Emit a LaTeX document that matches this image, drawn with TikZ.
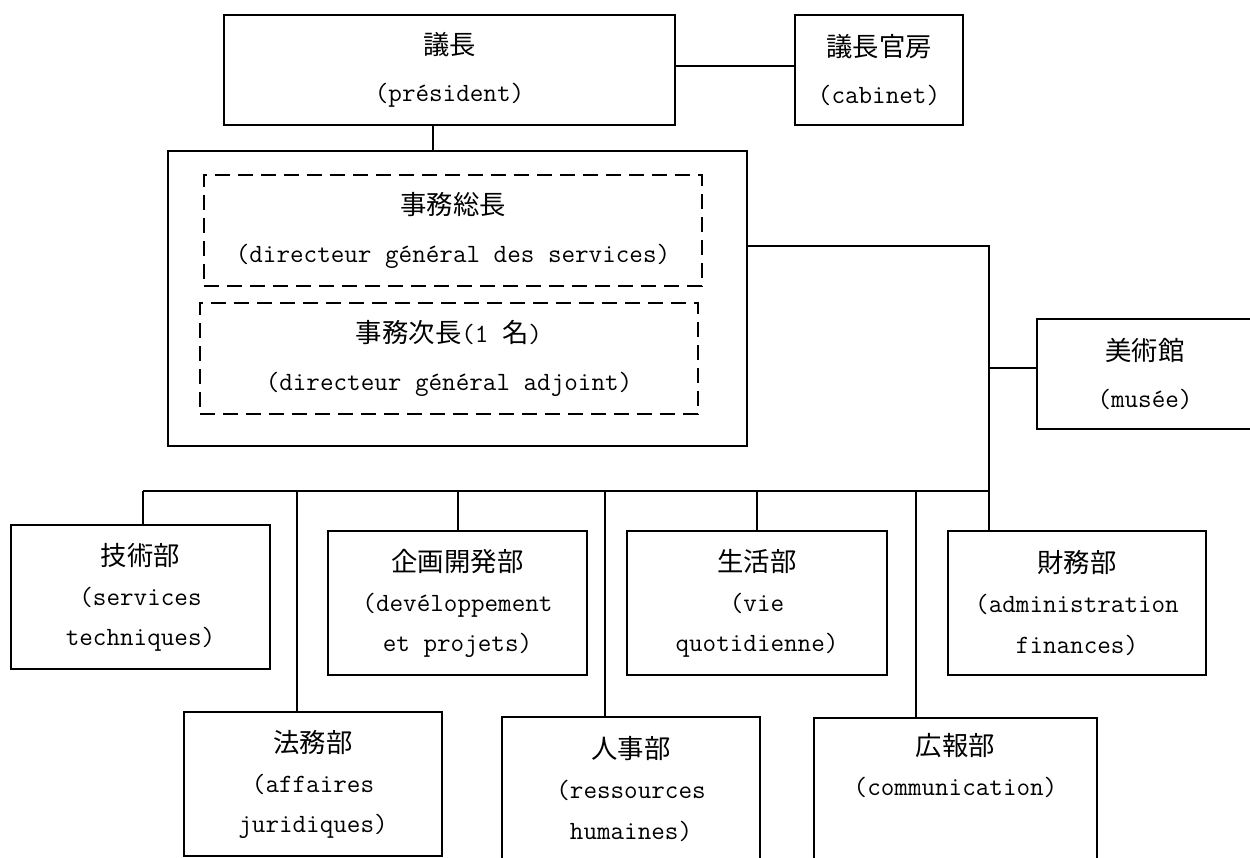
\documentclass[tikz,border=0pt]{standalone}
\usepackage{fontspec}
\newfontfamily\jp[Scale=1.0]{Noto Sans CJK JP}
\newcommand\jpt[1]{{\jp #1}}
\tikzset{
  box/.style={draw, line width=1.1pt, inner sep=0pt, align=center,
    font=\ttfamily\fontsize{15}{27}\selectfont},
  dbox/.style={box, dash pattern=on 0.3cm off 0.16cm},
  lowbox/.style={box, font=\ttfamily\fontsize{15}{22.8}\selectfont},
  conn/.style={line width=1.1pt},
  branch/.style={line width=0.85pt},
}
\begin{document}
\begin{tikzpicture}[x=0.02cm,y=-0.02cm]
\clip (0,0) rectangle (1250,858);
% top level
\node[box, minimum width=9.02cm, minimum height=2.2cm] (pres) at (449.5,70)
  {\jpt{議長}\\(président)};
\node[box, minimum width=3.36cm, minimum height=2.2cm] (cab) at (879,70)
  {\jpt{議長官房}\\(cabinet)};
\node[box, minimum width=11.58cm, minimum height=5.9cm] (big) at (457.5,298.5) {};
\node[dbox, minimum width=9.96cm, minimum height=2.22cm] (dg) at (453,230.5)
  {\jpt{事務総長}\\(directeur général des services)};
\node[dbox, minimum width=9.96cm, minimum height=2.22cm] (dga) at (449,358.5)
  {\jpt{事務次長}(1 \jpt{名})\\(directeur général adjoint)};
\node[box, minimum width=4.32cm, minimum height=2.2cm] (musee) at (1145,374)
  {\jpt{美術館}\\(musée)};
% departments
\node[lowbox, minimum width=5.18cm, minimum height=2.88cm] (gijutsu) at (140.5,597)
  {\jpt{技術部}\\(services\\techniques)};
\node[lowbox, minimum width=5.16cm, minimum height=2.88cm] (houmu) at (313,784)
  {\jpt{法務部}\\(affaires\\juridiques)};
\node[lowbox, minimum width=5.18cm, minimum height=2.88cm] (kikaku) at (457.5,603)
  {\jpt{企画開発部}\\(devéloppement\\et projets)};
\node[lowbox, minimum width=5.16cm, minimum height=2.88cm] (jinji) at (631,789)
  {\jpt{人事部}\\(ressources\\humaines)};
\node[lowbox, minimum width=5.2cm, minimum height=2.88cm] (seikatsu) at (757,603)
  {\jpt{生活部}\\(vie\\quotidienne)};
\node[lowbox, minimum width=5.66cm, minimum height=2.88cm] (kouhou) at (955.5,790)
  {\jpt{広報部}\\(communication)\\\strut};
\node[lowbox, minimum width=5.16cm, minimum height=2.88cm] (zaimu) at (1077,603)
  {\jpt{財務部}\\(administration\\finances)};
% junction coordinates
\coordinate (tp) at (433,66);
\coordinate (sp) at (989,246);
\coordinate (mj) at (989,368);
\coordinate (bL) at (143,491);
\coordinate (bR) at (989,491);
\coordinate (x2) at (297,491);
\coordinate (x3) at (458,491);
\coordinate (x4) at (605,491);
\coordinate (x5) at (757,491);
\coordinate (x6) at (916,491);
% connectors
\draw[conn] (pres.east |- tp) -- (cab.west |- tp);
\draw[conn] (pres.south -| tp) -- (big.north -| tp);
\draw[conn] (big.east |- sp) -- (sp) -- (zaimu.north -| sp);
\draw[conn] (mj) -- (musee.west |- mj);
\draw[conn] (bL) -- (bR);
\draw[conn] (bL) -- (gijutsu.north -| bL);
\draw[branch] (x2) -- (houmu.north -| x2);
\draw[branch] (x3) -- (kikaku.north -| x3);
\draw[branch] (x4) -- (jinji.north -| x4);
\draw[branch] (x5) -- (seikatsu.north -| x5);
\draw[branch] (x6) -- (kouhou.north -| x6);
\end{tikzpicture}
\end{document}
